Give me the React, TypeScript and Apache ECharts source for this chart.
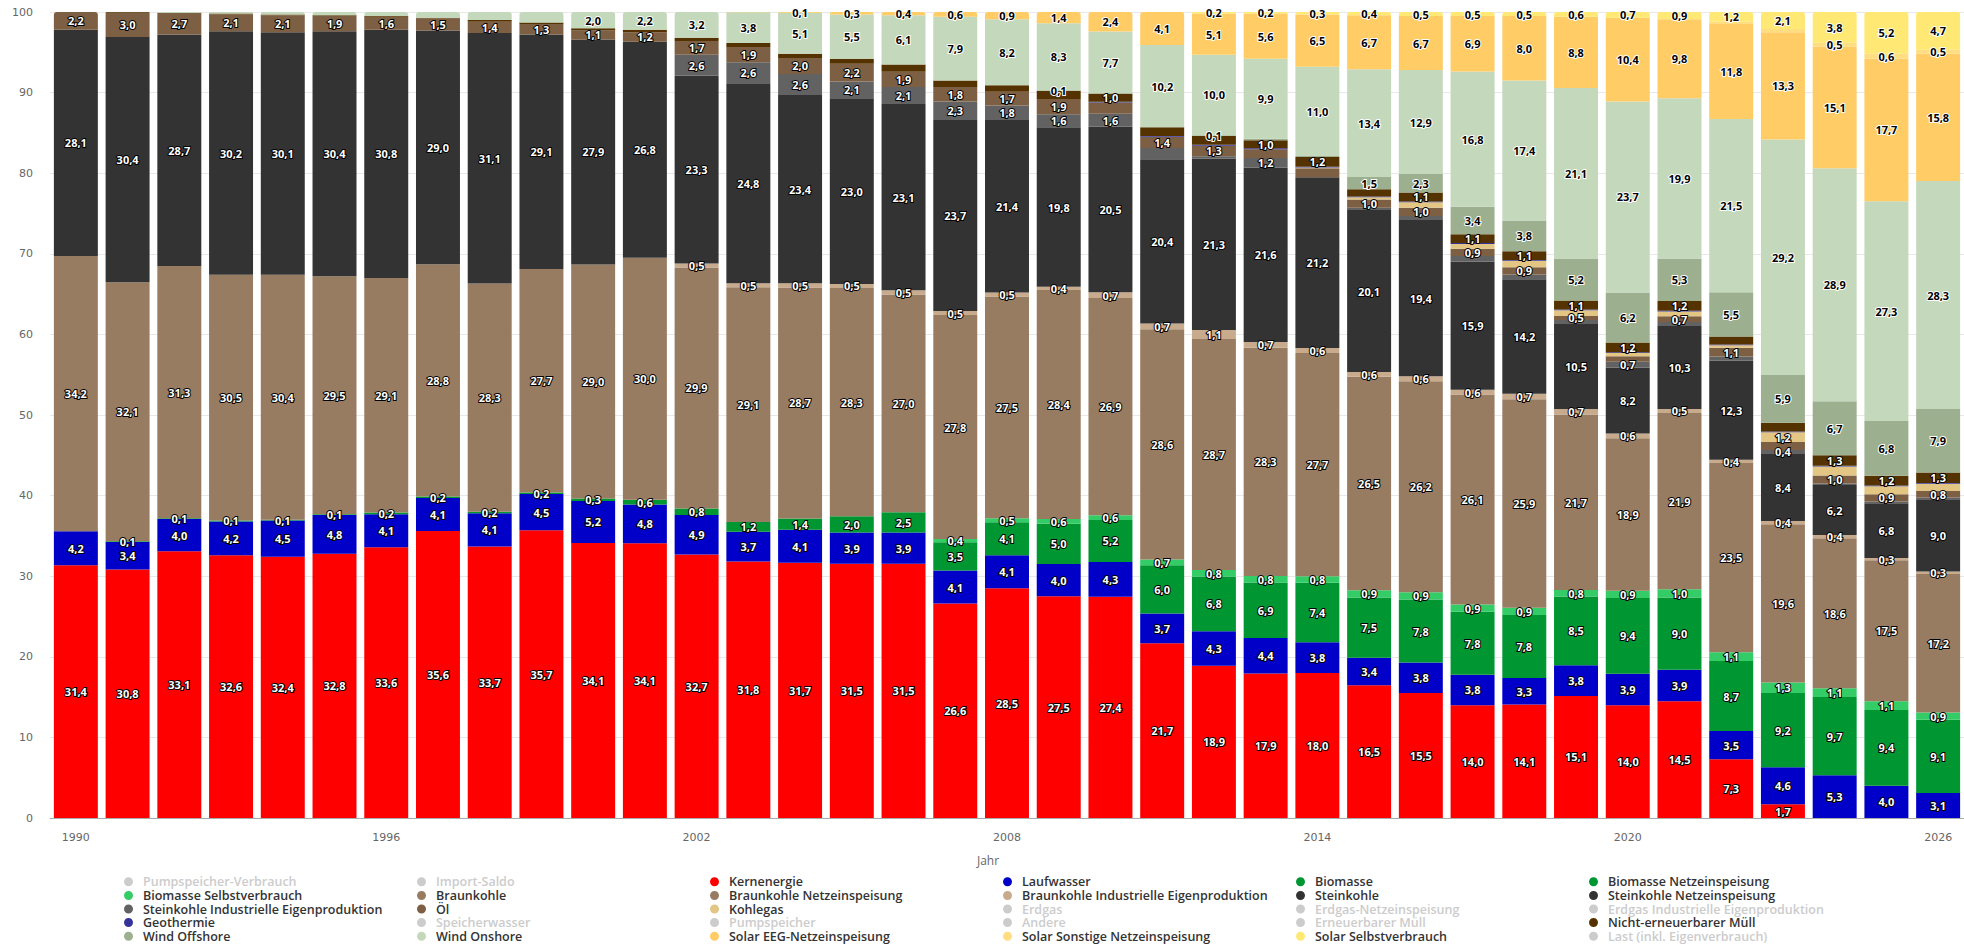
import { useEffect, useRef } from "react";
import * as echarts from "echarts";

const _ = null;

const YEARS = [
  "1990", "1991", "1992", "1993", "1994", "1995", "1996", "1997", "1998", "1999",
  "2000", "2001", "2002", "2003", "2004", "2005", "2006", "2007", "2008", "2009",
  "2010", "2011", "2012", "2013", "2014", "2015", "2016", "2017", "2018", "2019",
  "2020", "2021", "2022", "2023", "2024", "2025", "2026",
];

const KERNENERGIE = [
  31.4, 30.8, 33.1, 32.6, 32.4, 32.8, 33.6, 35.6, 33.7, 35.7,
  34.1, 34.1, 32.7, 31.8, 31.7, 31.5, 31.5, 26.6, 28.5, 27.5,
  27.4, 21.7, 18.9, 17.9, 18.0, 16.5, 15.5, 14.0, 14.1, 15.1,
  14.0, 14.5, 7.3, 1.7, _, _, _,
];
const LAUFWASSER = [
  4.2, 3.4, 4.0, 4.2, 4.5, 4.8, 4.1, 4.1, 4.1, 4.5,
  5.2, 4.8, 4.9, 3.7, 4.1, 3.9, 3.9, 4.1, 4.1, 4.0,
  4.3, 3.7, 4.3, 4.4, 3.8, 3.4, 3.8, 3.8, 3.3, 3.8,
  3.9, 3.9, 3.5, 4.6, 5.3, 4.0, 3.1,
];
const BIOMASSE = [
  _, 0.1, 0.1, 0.1, 0.1, 0.1, 0.2, 0.2, 0.2, 0.2,
  0.3, 0.6, 0.8, 1.2, 1.4, 2.0, 2.5, _, _, _,
  _, _, _, _, _, _, _, _, _, _,
  _, _, _, _, _, _, _,
];
const BIOMASSE_NETZ = [
  _, _, _, _, _, _, _, _, _, _,
  _, _, _, _, _, _, _, 3.5, 4.1, 5.0,
  5.2, 6.0, 6.8, 6.9, 7.4, 7.5, 7.8, 7.8, 7.8, 8.5,
  9.4, 9.0, 8.7, 9.2, 9.7, 9.4, 9.1,
];
const BIOMASSE_SELBST = [
  _, _, _, _, _, _, _, _, _, _,
  _, _, _, _, _, _, _, 0.4, 0.5, 0.6,
  0.6, 0.7, 0.8, 0.8, 0.8, 0.9, 0.9, 0.9, 0.9, 0.8,
  0.9, 1.0, 1.1, 1.3, 1.1, 1.1, 0.9,
];
const BRAUNKOHLE = [
  34.2, 32.1, 31.3, 30.5, 30.4, 29.5, 29.1, 28.8, 28.3, 27.7,
  29.0, 30.0, _, _, _, _, _, _, _, _,
  _, _, _, _, _, _, _, _, _, _,
  _, _, _, _, _, _, _,
];
const BRAUNKOHLE_NETZ = [
  _, _, _, _, _, _, _, _, _, _,
  _, _, 29.9, 29.1, 28.7, 28.3, 27.0, 27.8, 27.5, 28.4,
  26.9, 28.6, 28.7, 28.3, 27.7, 26.5, 26.2, 26.1, 25.9, 21.7,
  18.9, 21.9, 23.5, 19.6, 18.6, 17.5, 17.2,
];
const BRAUNKOHLE_IND = [
  _, _, _, _, _, _, _, _, _, _,
  _, _, 0.5, 0.5, 0.5, 0.5, 0.5, 0.5, 0.5, 0.4,
  0.7, 0.7, 1.1, 0.7, 0.6, 0.6, 0.6, 0.6, 0.7, 0.7,
  0.6, 0.5, 0.4, 0.4, 0.4, 0.3, 0.3,
];
const STEINKOHLE = [
  28.1, 30.4, 28.7, 30.2, 30.1, 30.4, 30.8, 29.0, 31.1, 29.1,
  27.9, 26.8, _, _, _, _, _, _, _, _,
  _, _, _, _, _, _, _, _, _, _,
  _, _, _, _, _, _, _,
];
const STEINKOHLE_NETZ = [
  _, _, _, _, _, _, _, _, _, _,
  _, _, 23.3, 24.8, 23.4, 23.0, 23.1, 23.7, 21.4, 19.8,
  20.5, 20.4, 21.3, 21.6, 21.2, 20.1, 19.4, 15.9, 14.2, 10.5,
  8.2, 10.3, 12.3, 8.4, 6.2, 6.8, 9.0,
];
const STEINKOHLE_IND = [
  _, _, _, _, _, _, _, _, _, _,
  _, _, 2.6, 2.6, 2.6, 2.1, 2.1, 2.3, 1.8, 1.6,
  1.6, 1.4, 0.3, 1.2, _, 0.3, 0.5, 0.7, 0.6, 0.5,
  0.7, 0.5, 0.5, 0.4, 0.2, 0.2, 0.2,
];
const OEL = [
  2.2, 3.0, 2.7, 2.1, 2.1, 1.9, 1.6, 1.5, 1.4, 1.3,
  1.1, 1.2, 1.7, 1.9, 2.0, 2.2, 1.9, 1.8, 1.7, 1.9,
  1.4, 1.4, 1.3, 1.1, 1.1, 1.0, 1.0, 0.9, 0.9, 0.5,
  0.7, 0.7, 1.1, 1.0, 1.0, 0.9, 0.8,
];
const KOHLEGAS = [
  _, _, _, _, _, _, _, _, _, _,
  _, _, _, _, _, _, _, _, _, _,
  _, _, _, _, 0.1, 0.3, 0.7, 0.6, 0.8, 0.7,
  0.4, 0.6, 0.3, 1.2, 1.1, 1.0, 0.9,
];
const GEOTHERMIE = [
  _, _, _, _, _, _, _, _, _, _,
  _, _, _, _, _, _, _, _, _, _,
  0.1, 0.1, 0.1, 0.1, 0.1, 0.1, 0.1, 0.1, 0.1, 0.1,
  0.1, 0.1, 0.1, 0.1, 0.1, 0.1, 0.1,
];
const MUELL = [
  _, 0.1, _, 0.1, 0.1, 0.1, 0.1, 0.1, 0.2, 0.2,
  0.3, 0.3, 0.4, 0.5, 0.5, 0.6, 0.9, 0.8, 0.8, 1.0,
  1.0, 1.1, 1.1, 1.0, 1.2, 0.9, 1.1, 1.1, 1.1, 1.1,
  1.2, 1.2, 1.0, 1.1, 1.3, 1.2, 1.3,
];
const WIND_OFFSHORE = [
  _, _, _, _, _, _, _, _, _, _,
  _, _, _, _, _, _, _, _, _, 0.1,
  _, _, 0.1, 0.2, 0.2, 1.5, 2.3, 3.4, 3.8, 5.2,
  6.2, 5.3, 5.5, 5.9, 6.7, 6.8, 7.9,
];
const WIND_ONSHORE = [
  _, _, 0.1, 0.2, 0.3, 0.4, 0.5, 0.7, 1.0, 1.3,
  2.0, 2.2, 3.2, 3.8, 5.1, 5.5, 6.1, 7.9, 8.2, 8.3,
  7.7, 10.2, 10.0, 9.9, 11.0, 13.4, 12.9, 16.8, 17.4, 21.1,
  23.7, 19.9, 21.5, 29.2, 28.9, 27.3, 28.3,
];
const SOLAR_EEG = [
  _, _, _, _, _, _, _, _, _, _,
  _, _, _, 0.04, 0.1, 0.3, 0.4, 0.6, 0.9, 1.4,
  2.4, 4.1, 5.1, 5.6, 6.5, 6.7, 6.7, 6.9, 8.0, 8.8,
  10.4, 9.8, 11.8, 13.3, 15.1, 17.7, 15.8,
];
const SOLAR_SONSTIGE = [
  _, _, _, _, _, _, _, _, _, _,
  _, _, _, _, _, _, _, _, _, _,
  _, _, _, _, _, _, _, _, _, _,
  _, _, 0.3, 0.4, 0.5, 0.6, 0.5,
];
const SOLAR_SELBST = [
  _, _, _, _, _, _, _, _, _, _,
  _, _, _, _, _, _, _, _, _, _,
  _, _, 0.2, 0.2, 0.3, 0.4, 0.5, 0.5, 0.5, 0.6,
  0.7, 0.9, 1.2, 2.1, 3.8, 5.2, 4.7,
];

type Def = { name: string; color: string; data: (number | null)[]; dark: boolean; labels?: boolean };

// stacked bottom -> top
const SHOWN: Def[] = [
  { name: "Kernenergie", color: "#ff0000", data: KERNENERGIE, dark: true },
  { name: "Laufwasser", color: "#0000c8", data: LAUFWASSER, dark: true },
  { name: "Biomasse", color: "#009632", data: BIOMASSE, dark: true },
  { name: "Biomasse Netzeinspeisung", color: "#009632", data: BIOMASSE_NETZ, dark: true },
  { name: "Biomasse Selbstverbrauch", color: "#33cc66", data: BIOMASSE_SELBST, dark: true },
  { name: "Braunkohle", color: "#987c62", data: BRAUNKOHLE, dark: true },
  { name: "Braunkohle Netzeinspeisung", color: "#987c62", data: BRAUNKOHLE_NETZ, dark: true },
  { name: "Braunkohle Industrielle Eigenproduktion", color: "#c8aa8c", data: BRAUNKOHLE_IND, dark: true },
  { name: "Steinkohle", color: "#333333", data: STEINKOHLE, dark: true },
  { name: "Steinkohle Netzeinspeisung", color: "#333333", data: STEINKOHLE_NETZ, dark: true },
  { name: "Steinkohle Industrielle Eigenproduktion", color: "#626262", data: STEINKOHLE_IND, dark: true },
  { name: "Öl", color: "#7d5f43", data: OEL, dark: true },
  { name: "Kohlegas", color: "#e3c584", data: KOHLEGAS, dark: true },
  { name: "Geothermie", color: "#333399", data: GEOTHERMIE, dark: true, labels: false },
  { name: "Nicht-erneuerbarer Müll", color: "#553300", data: MUELL, dark: true },
  { name: "Wind Offshore", color: "#9cb08f", data: WIND_OFFSHORE, dark: false },
  { name: "Wind Onshore", color: "#c4d9bb", data: WIND_ONSHORE, dark: false },
  { name: "Solar EEG-Netzeinspeisung", color: "#ffcc66", data: SOLAR_EEG, dark: false },
  { name: "Solar Sonstige Netzeinspeisung", color: "#ffdd80", data: SOLAR_SONSTIGE, dark: false },
  { name: "Solar Selbstverbrauch", color: "#ffe873", data: SOLAR_SELBST, dark: false },
];

const HIDDEN = [
  "Pumpspeicher-Verbrauch", "Import-Saldo", "Erdgas", "Erdgas-Netzeinspeisung",
  "Erdgas Industrielle Eigenproduktion", "Speicherwasser", "Pumpspeicher", "Andere",
  "Erneuerbarer Müll", "Last (inkl. Eigenverbrauch)",
];

const LEGEND_ORDER = [
  "Pumpspeicher-Verbrauch", "Import-Saldo", "Kernenergie", "Laufwasser", "Biomasse", "Biomasse Netzeinspeisung",
  "Biomasse Selbstverbrauch", "Braunkohle", "Braunkohle Netzeinspeisung", "Braunkohle Industrielle Eigenproduktion", "Steinkohle", "Steinkohle Netzeinspeisung",
  "Steinkohle Industrielle Eigenproduktion", "Öl", "Kohlegas", "Erdgas", "Erdgas-Netzeinspeisung", "Erdgas Industrielle Eigenproduktion",
  "Geothermie", "Speicherwasser", "Pumpspeicher", "Andere", "Erneuerbarer Müll", "Nicht-erneuerbarer Müll",
  "Wind Offshore", "Wind Onshore", "Solar EEG-Netzeinspeisung", "Solar Sonstige Netzeinspeisung", "Solar Selbstverbrauch", "Last (inkl. Eigenverbrauch)",
];

function buildOption() {
  const totals = YEARS.map((_y, i) => SHOWN.reduce((s, d) => s + (d.data[i] ?? 0), 0));
  const topIdx = YEARS.map((_y, i) => {
    let t = -1;
    SHOWN.forEach((d, k) => {
      if ((d.data[i] ?? 0) > 0) t = k;
    });
    return t;
  });

  const series: any[] = SHOWN.map((d, k) => ({
    name: d.name,
    type: "bar",
    stack: "total",
    barCategoryGap: "15%",
    itemStyle: { color: d.color },
    emphasis: { disabled: true },
    labelLayout: { hideOverlap: true },
    label: {
      show: true,
      position: "inside",
      fontFamily: "'Open Sans', sans-serif",
      fontWeight: "bold",
      fontSize: 11,
      lineHeight: 13,
      color: d.dark ? "#ffffff" : "#000000",
      textBorderColor: d.dark ? "#000000" : "#ffffff",
      textBorderWidth: 2,
      formatter: (p: any) => p.data.raw.toFixed(1).replace(".", ","),
    },
    data: d.data.map((v, i) =>
      v == null
        ? null
        : {
            value: (v * 100) / totals[i],
            raw: v,
            label: { show: d.labels !== false && v >= 0.05 },
            itemStyle: topIdx[i] === k ? { borderRadius: [3, 3, 0, 0] } : undefined,
          }
    ),
  }));

  HIDDEN.forEach((name) => {
    series.push({ name, type: "bar", stack: "total", data: [], itemStyle: { color: "#cccccc" } });
  });

  const selected: Record<string, boolean> = {};
  HIDDEN.forEach((n) => (selected[n] = false));

  return {
    animation: false,
    backgroundColor: "#ffffff",
    grid: { left: 50, right: -4, top: 12, bottom: 128, containLabel: false },
    xAxis: {
      type: "category",
      data: YEARS,
      name: "Jahr",
      nameLocation: "middle",
      nameGap: 36,
      nameTextStyle: { color: "#666666", fontSize: 12, fontFamily: "'Open Sans', sans-serif", padding: [0, 38, 0, 0] },
      axisTick: { show: false },
      axisLine: { lineStyle: { color: "#aaaaaa" } },
      axisLabel: { interval: 5, color: "#666666", fontSize: 11, fontFamily: "'DejaVu Sans', sans-serif", margin: 14 },
    },
    yAxis: {
      type: "value",
      min: 0,
      max: 100,
      interval: 10,
      axisLine: { show: false },
      axisTick: { show: false },
      axisLabel: { color: "#666666", fontSize: 11, fontFamily: "'DejaVu Sans', sans-serif", margin: 17 },
      splitLine: { lineStyle: { color: "#e8e8e8" } },
    },
    legend: {
      data: LEGEND_ORDER,
      selected,
      left: 124,
      top: 875,
      width: 1762,
      padding: 0,
      orient: "horizontal",
      itemGap: 0,
      itemWidth: 9,
      itemHeight: 11,
      icon: "path://M5,0 C7.76,0 10,2.24 10,5 C10,7.76 7.76,10 5,10 C2.24,10 0,7.76 0,5 C0,2.24 2.24,0 5,0 Z",
      inactiveColor: "#cccccc",
      selectedMode: true,
      textStyle: {
        color: "#333333",
        fontSize: 12.5,
        fontWeight: 600,
        fontFamily: "'Open Sans', sans-serif",
        width: 274,
        lineHeight: 13.6,
        overflow: "truncate",
        padding: [0, 0, 0, 5],
      },
    },
    series,
  };
}

export default function App() {
  const ref = useRef<HTMLDivElement>(null);
  useEffect(() => {
    if (!ref.current) return;
    const chart = echarts.init(ref.current, null, { renderer: "svg" });
    chart.setOption(buildOption() as any);
    return () => chart.dispose();
  }, []);
  return (
    <div style={{ position: "fixed", left: 0, top: 0, width: 1964, height: 946, overflow: "hidden", background: "#fff" }}>
      <div ref={ref} style={{ width: 1964, height: 946 }} />
    </div>
  );
}
